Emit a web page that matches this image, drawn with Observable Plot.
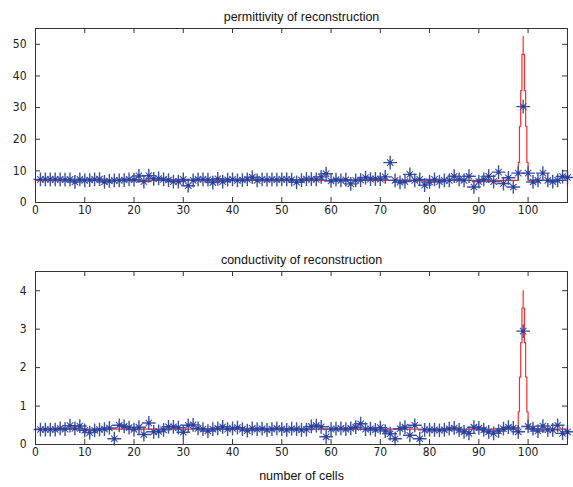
<!DOCTYPE html>
<html><head><meta charset="utf-8">
<script src="https://cdn.jsdelivr.net/npm/d3@7"></script>
<script src="https://cdn.jsdelivr.net/npm/@observablehq/plot@0.6"></script>
<style>
body{margin:0;background:#fff;}
#chart{width:573px;height:487px;}
#chart svg{display:block;}
</style></head><body><div id="chart"></div>
<script>
const cells = d3.range(1, 109);
const permittivity = [
7.3,7.3,7.3,7.3,7.3,7.2,7.3,6.5,7.3,7.0,
7.1,7.3,7.4,6.5,6.8,7.0,7.0,7.1,7.3,7.2,
8.4,6.6,8.5,7.5,7.6,7.3,7.1,6.6,6.6,7.3,
5.3,7.0,7.3,7.3,7.2,6.3,7.5,6.6,7.2,7.3,
7.0,7.1,7.3,8.0,7.0,7.3,7.2,7.3,7.2,7.3,
7.3,7.2,6.4,7.1,7.4,7.4,7.3,8.1,9.1,6.8,
7.2,7.0,7.2,5.9,7.0,7.1,7.9,7.4,7.5,7.4,
8.1,12.6,7.0,6.4,6.6,8.9,7.0,7.3,5.5,6.5,
7.3,6.6,7.0,7.0,8.3,7.3,7.0,8.3,4.9,6.6,
7.3,8.3,6.6,9.6,6.0,7.8,4.9,9.3,30.3,9.3,
6.5,7.0,9.3,7.0,6.6,7.0,8.2,7.9];
const conductivity = [
0.39,0.39,0.39,0.39,0.42,0.40,0.49,0.42,0.48,0.37,
0.31,0.37,0.39,0.40,0.43,0.15,0.50,0.47,0.44,0.39,
0.45,0.26,0.56,0.33,0.34,0.38,0.46,0.46,0.44,0.32,
0.50,0.51,0.42,0.40,0.35,0.40,0.42,0.46,0.40,0.42,
0.44,0.40,0.36,0.42,0.40,0.41,0.38,0.40,0.42,0.40,
0.38,0.41,0.40,0.38,0.39,0.47,0.49,0.46,0.20,0.40,
0.41,0.42,0.40,0.42,0.45,0.54,0.40,0.41,0.38,0.44,
0.35,0.28,0.15,0.41,0.45,0.24,0.50,0.15,0.38,0.38,
0.38,0.37,0.38,0.41,0.43,0.38,0.33,0.29,0.45,0.43,
0.38,0.33,0.29,0.35,0.41,0.45,0.43,0.33,2.95,0.47,
0.41,0.35,0.48,0.38,0.38,0.50,0.29,0.33];
// true profile (step outline)
const trueX    = [0, 98, 98.25, 98.5, 98.75, 99, 99, 99.25, 99.5, 99.75, 100, 108];
const truePerm = [7, 12.7, 24.1, 35.4, 46.8, 52.5, 46.8, 35.4, 24.1, 12.7, 7, 7];
const trueCond = [0.4, 0.85, 1.75, 2.65, 3.55, 4.0, 3.55, 2.65, 1.75, 0.85, 0.4, 0.4];
const xTicks = [0,10,20,30,40,50,60,70,80,90,100];
const permTicks = [0,10,20,30,40,50];
const condTicks = [0,1,2,3,4];
const permTitle = "permittivity of reconstruction";
const condTitle = "conductivity of reconstruction";
const xLabel = "number of cells";

const W = 573, ML = 35, MR = 6;
const BLUE = "#3a4fa8", RED = "#ff2a2a", AX = "#333";
const tickFont = "'Liberation Sans Narrow','DejaVu Sans Condensed','Liberation Sans',sans-serif";
const textFont = "'Liberation Sans',sans-serif";

function panel({vals, trueVals, yDomain, yTicks, title, height, marginTop, marginBottom, xlabel}) {
  const h = height - marginTop - marginBottom;
  const w = W - ML - MR;
  const pts = cells.map((c, i) => ({x: c, y: vals[i]}));
  const tr = trueX.map((x, i) => ({x, y: trueVals[i]}));
  const marks = [
    Plot.line(tr, {x: "x", y: "y", curve: "step-after", stroke: RED, strokeWidth: 1.2}),
    Plot.dot(pts, {x: "x", y: "y", symbol: "plus", r: 4.5, stroke: BLUE, fill: "none", strokeWidth: 1.4}),
    Plot.dot(pts, {x: "x", y: "y", symbol: "times", r: 3, stroke: BLUE, fill: "none", strokeWidth: 1.1}),
    Plot.dot(pts, {x: "x", y: "y", r: 1.7, fill: "#2a3f98", stroke: "none"}),
    Plot.tickX(xTicks, {x: d => d, insetBottom: h - 5, stroke: AX}),
    Plot.tickX(xTicks, {x: d => d, insetTop: h - 5, stroke: AX}),
    Plot.tickY(yTicks, {y: d => d, insetRight: w - 5, stroke: AX}),
    Plot.tickY(yTicks, {y: d => d, insetLeft: w - 5, stroke: AX}),
    Plot.frame({stroke: AX}),
    Plot.text([title], {frameAnchor: "top", dy: -16, text: d => d, fontSize: 12.5, fontFamily: textFont, fill: "#111"})
  ];
  if (xlabel) marks.push(Plot.text([xlabel], {frameAnchor: "bottom", dy: 35, text: d => d, fontSize: 12.5, fontFamily: textFont, fill: "#111"}));
  return Plot.plot({
    width: W, height, marginLeft: ML, marginRight: MR, marginTop, marginBottom,
    style: {fontFamily: tickFont, fontSize: "12px", color: "#222", background: "#fff"},
    x: {domain: [0, 108], ticks: xTicks, tickSize: 0, tickPadding: 3, tickFormat: d3.format("d"), label: null},
    y: {domain: yDomain, ticks: yTicks, tickSize: 0, tickPadding: 9, tickFormat: d3.format("d"), label: null},
    marks
  });
}

const el = document.getElementById("chart");
el.append(panel({vals: permittivity, trueVals: truePerm, yDomain: [0, 55], yTicks: permTicks, title: permTitle, height: 240, marginTop: 28, marginBottom: 38}));
el.append(panel({vals: conductivity, trueVals: trueCond, yDomain: [0, 4.5], yTicks: condTicks, title: condTitle, height: 247, marginTop: 31, marginBottom: 43, xlabel: xLabel}));
</script>
</body></html>
